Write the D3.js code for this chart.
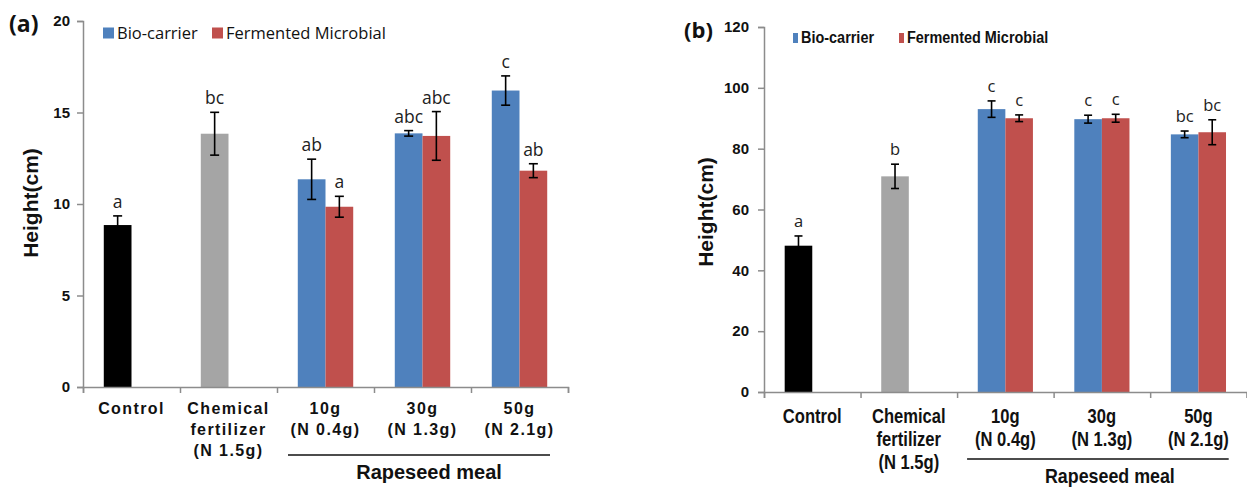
<!DOCTYPE html>
<html>
<head>
<meta charset="utf-8">
<script src="https://cdnjs.cloudflare.com/ajax/libs/d3/7.8.5/d3.min.js"></script>
<style>
  body { margin: 0; background: #fff; }
  svg { display: block; }
</style>
</head>
<body>
<div id="chart"></div>
<script>
// categories
const groups = ["Control", "Chemical", "10g", "30g", "50g"]
const groupLines = [["Control"], ["Chemical", "fertilizer", "(N 1.5g)"], ["10g", "(N 0.4g)"], ["30g", "(N 1.3g)"], ["50g", "(N 2.1g)"]]
const seriesNames = ["Bio-carrier", "Fermented Microbial"]
const bracketLabel = "Rapeseed meal"
const bracketGroups = ["10g", "50g"]

// panel (a) values
const aFirst = [8.85, 13.84, 11.35, 13.86, 16.2]
const aFirstErr = [0.5, 1.17, 1.1, 0.15, 0.8]
const aSecond = [null, null, 9.85, 13.72, 11.82]
const aSecondErr = [null, null, 0.57, 1.33, 0.38]
const aFirstLetters = ["a", "bc", "ab", "abc", "c"]
const aSecondLetters = [null, null, "a", "abc", "ab"]
const aTicks = [0, 5, 10, 15, 20]

// panel (b) values
const bFirst = [48.1, 70.9, 93.0, 89.7, 84.7]
const bFirstErr = [3.2, 4.0, 2.7, 1.3, 1.1]
const bSecond = [null, null, 90.0, 90.0, 85.4]
const bSecondErr = [null, null, 1.1, 1.3, 4.1]
const bFirstLetters = ["a", "b", "c", "c", "bc"]
const bSecondLetters = [null, null, "c", "c", "bc"]
const bTicks = [0, 20, 40, 60, 80, 100, 120]

const firstColors = ["#000000", "#a5a5a5", "#4f81bd", "#4f81bd", "#4f81bd"]
const secondColor = "#c0504d"
const axisColor = "#8c8c8c"

const svg = d3.select("#chart").append("svg")
    .attr("width", 1247)
    .attr("height", 488)

// text placed at (x, y), squeezed horizontally by sx
function label (g, x, y, sx) {
  return g.append("text")
    .attr("transform", "translate(" + x + "," + y + ") scale(" + sx + ",1)")
    .attr("fill", "#111")
}

function drawPanel (p) {
  const g = svg.append("g")

  const x = d3.scaleBand().domain(groups).range([p.x0, p.x1])
  const xSlot = d3.scaleBand().domain([0, 1]).range([0, x.bandwidth()]).paddingOuter(0.75)
  const y = d3.scaleLinear().domain([0, p.ticks[p.ticks.length - 1]]).range([p.y0, p.y1])

  // bars, first slot then second slot
  const rows = []
  groups.forEach((grp, i) => {
    rows.push({ grp, slot: 0, v: p.first[i], e: p.firstErr[i], l: p.firstLetters[i], c: firstColors[i] })
    if (p.second[i] != null) {
      rows.push({ grp, slot: 1, v: p.second[i], e: p.secondErr[i], l: p.secondLetters[i], c: secondColor })
    }
  })

  g.selectAll("rect.bar")
    .data(rows)
    .join("rect")
    .attr("class", "bar")
    .attr("x", d => x(d.grp) + xSlot(d.slot))
    .attr("width", xSlot.bandwidth())
    .attr("y", d => y(d.v))
    .attr("height", d => y(0) - y(d.v))
    .attr("fill", d => d.c)

  const cx = d => x(d.grp) + xSlot(d.slot) + xSlot.bandwidth() / 2

  const err = g.selectAll("g.err").data(rows).join("g").attr("class", "err")
    .attr("stroke", "#000").attr("stroke-width", 1.6)
  err.append("line")
    .attr("x1", cx).attr("x2", cx)
    .attr("y1", d => y(d.v + d.e)).attr("y2", d => y(d.v - d.e))
  err.append("line")
    .attr("x1", d => cx(d) - p.cap).attr("x2", d => cx(d) + p.cap)
    .attr("y1", d => y(d.v + d.e)).attr("y2", d => y(d.v + d.e))
  err.append("line")
    .attr("x1", d => cx(d) - p.cap).attr("x2", d => cx(d) + p.cap)
    .attr("y1", d => y(d.v - d.e)).attr("y2", d => y(d.v - d.e))

  g.selectAll("text.letter")
    .data(rows)
    .join("text")
    .attr("class", "letter")
    .attr("x", cx)
    .attr("y", d => y(d.v + d.e) - p.letterGap)
    .attr("text-anchor", "middle")
    .style("font-family", p.letterFont)
    .style("font-size", p.letterSize + "px")
    .attr("fill", "#222")
    .text(d => d.l)

  // y axis
  const yAxis = g.append("g")
    .attr("transform", "translate(" + p.x0 + ",0)")
    .call(d3.axisLeft(y).tickValues(p.ticks).tickSize(6).tickPadding(p.tickPad))
  yAxis.selectAll("path, line").attr("stroke", axisColor).attr("stroke-width", 1.5)
  yAxis.selectAll("text")
    .style("font-family", p.tickFont)
    .style("font-size", p.tickSize + "px")
    .style("font-weight", "bold")
    .attr("fill", "#111")

  // x axis with ticks at category boundaries
  const xEdge = d3.scaleLinear().domain([0, groups.length]).range([p.x0, p.x1])
  const xAxis = g.append("g")
    .attr("transform", "translate(0," + p.y0 + ")")
    .call(d3.axisBottom(xEdge).ticks(groups.length).tickSize(6).tickFormat(""))
  xAxis.selectAll("path, line").attr("stroke", axisColor).attr("stroke-width", 1.5)

  groupLines.forEach((lines, i) => {
    const t = label(g, x(groups[i]) + x.bandwidth() / 2, p.labelY, p.squeeze)
      .attr("text-anchor", "middle")
      .style("font-family", p.labelFont)
      .style("font-size", p.labelSize + "px")
      .style("font-weight", "bold")
      .style("letter-spacing", p.labelSpacing + "px")
    lines.forEach((s, k) => {
      t.append("tspan").attr("x", 0).attr("dy", k === 0 ? 0 : p.lineStep).text(s)
    })
  })

  // bracket under rapeseed groups
  const bx0 = x(bracketGroups[0]) + p.bracketIn[0]
  const bx1 = x(bracketGroups[1]) + x.bandwidth() - p.bracketIn[1]
  g.append("line")
    .attr("x1", bx0).attr("x2", bx1)
    .attr("y1", p.bracketY).attr("y2", p.bracketY)
    .attr("stroke", "#111").attr("stroke-width", 1.5)
  label(g, (bx0 + bx1) / 2 + p.bracketShift, p.bracketTextY, p.squeeze)
    .attr("text-anchor", "middle")
    .style("font-family", p.labelFont)
    .style("font-size", p.bracketSize + "px")
    .style("font-weight", "bold")
    .text(bracketLabel)

  // y title
  g.append("text")
    .attr("transform", "translate(" + p.titleX + "," + p.titleY + ") rotate(-90)")
    .attr("text-anchor", "middle")
    .style("font-family", "Liberation Sans, Arial, sans-serif")
    .style("font-size", p.titleSize + "px")
    .style("font-weight", "bold")
    .attr("fill", "#111")
    .text("Height(cm)")

  // panel letter
  g.append("text")
    .attr("x", p.tagX).attr("y", p.tagY)
    .style("font-family", "Open Sans, sans-serif")
    .style("font-size", p.tagSize + "px")
    .style("font-weight", "bold")
    .attr("fill", "#111")
    .text(p.tag)

  // legend
  const legColors = ["#4f81bd", secondColor]
  seriesNames.forEach((name, i) => {
    g.append("rect")
      .attr("x", p.legX[i]).attr("y", p.legY - p.legBox[1])
      .attr("width", p.legBox[0]).attr("height", p.legBox[1])
      .attr("fill", legColors[i])
    label(g, p.legX[i] + p.legBox[0] + 3, p.legY, p.squeeze)
      .style("font-family", p.legFont)
      .style("font-size", p.legSize + "px")
      .style("font-weight", p.legWeight)
      .text(name)
  })
}

drawPanel({
  tag: "(a)", tagX: 9, tagY: 32, tagSize: 23,
  x0: 83, x1: 568, y0: 387, y1: 21,
  ticks: aTicks, tickPad: 7, tickFont: "Liberation Sans, sans-serif", tickSize: 15,
  first: aFirst, firstErr: aFirstErr, second: aSecond, secondErr: aSecondErr,
  firstLetters: aFirstLetters, secondLetters: aSecondLetters,
  cap: 4.5, letterGap: 8, letterFont: "Open Sans, sans-serif", letterSize: 17.5,
  labelFont: "Liberation Sans, Arial, sans-serif", labelSize: 16, labelSpacing: 1.4, squeeze: 1,
  labelY: 414, lineStep: 21,
  bracketIn: [11, 18], bracketY: 455, bracketShift: 10, bracketTextY: 479, bracketSize: 20,
  titleX: 38, titleY: 203, titleSize: 21,
  legX: [103, 212], legY: 38.5, legBox: [11, 11],
  legFont: "Open Sans, sans-serif", legSize: 16.5, legWeight: "normal"
})

drawPanel({
  tag: "(b)", tagX: 684, tagY: 38, tagSize: 22,
  x0: 764, x1: 1246.7, y0: 392, y1: 27,
  ticks: bTicks, tickPad: 9, tickFont: "Liberation Sans, sans-serif", tickSize: 15,
  first: bFirst, firstErr: bFirstErr, second: bSecond, secondErr: bSecondErr,
  firstLetters: bFirstLetters, secondLetters: bSecondLetters,
  cap: 4, letterGap: 9, letterFont: "Open Sans, sans-serif", letterSize: 16.5,
  labelFont: "Liberation Sans, Arial, sans-serif", labelSize: 19.5, labelSpacing: 0, squeeze: 0.85,
  labelY: 423, lineStep: 23,
  bracketIn: [10, 18], bracketY: 459, bracketShift: 12, bracketTextY: 483, bracketSize: 21,
  titleX: 713, titleY: 212, titleSize: 21,
  legX: [793, 899], legY: 43, legBox: [5, 10],
  legFont: "Liberation Sans, Arial, sans-serif", legSize: 17, legWeight: "bold"
})
</script>
</body>
</html>
